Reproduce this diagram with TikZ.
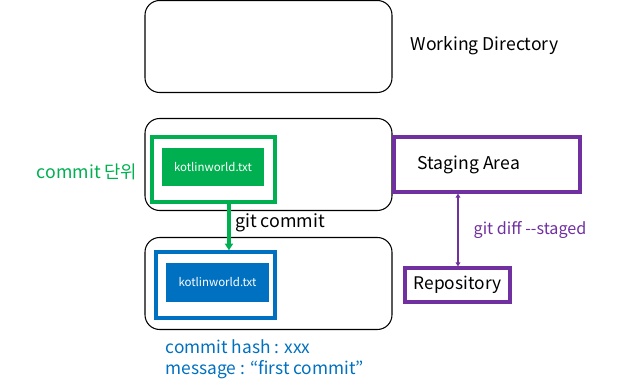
\documentclass[tikz,border=0pt]{standalone}
\usepackage{fontspec}
\setmainfont{Noto Sans CJK KR}
\usetikzlibrary{arrows.meta}
\definecolor{cgreen}{HTML}{00B050}
\definecolor{cblue}{HTML}{0070C0}
\definecolor{cpurple}{HTML}{7030A0}
\tikzset{
	area/.style={draw, rounded corners=11pt, line width=0.8pt, minimum width=185.25pt, minimum height=69pt},
	frame/.style={draw=#1, line width=2.5pt, inner sep=0pt},
	file/.style={fill=#1, text=white, font=\fontsize{8.6}{10}\selectfont, inner sep=0pt, minimum width=77pt, minimum height=28.75pt},
	stage/.style={draw=cpurple, line width=2.4pt, inner sep=0pt, font=\fontsize{13}{15}\selectfont}
}
\begin{document}
		\begin{tikzpicture}[x=0.75pt, y=-0.75pt]
			\useasboundingbox (0,0) rectangle (619,391);
			% three areas
			\node[area] (work) at (268.5,46.5) {};
			\node[area] (stag) at (268.5,164.5) {};
			\node[area] (repo) at (268.5,283.5) {};
			\node[anchor=west, font=\fontsize{13.2}{15}\selectfont] (worklbl) at (406,46) {Working Directory};
			
			% commit unit
			\node[frame=cgreen, minimum width=92.25pt, minimum height=48.75pt] (gout) at (213.5,169.5) {};
			\node[file=cgreen] (gfile) at (213,167) {kotlinworld.txt};
			\node[anchor=east, text=cgreen, font=\fontsize{13.3}{15}\selectfont] (unit) at (142,172) {commit 단위};
			\node[frame=cblue, minimum width=89.25pt, minimum height=49.5pt] (bout) at (215.5,285) {};
			\node[file=cblue] (bfile) at (217.5,282.5) {kotlinworld.txt};
			\node[anchor=north west, align=left, text=cblue, font=\fontsize{13}{15.5}\selectfont] (hash) at (161,335) {commit hash : xxx\\message : “first commit”};
			
			\draw[cgreen, line width=2.5pt, -{Triangle[length=5pt, width=6pt]}] ([xshift=11.6pt]gout.south) -- node[right, text=black, font=\fontsize{13.4}{15}\selectfont, pos=0.4] {git commit} ([xshift=10.1pt]bout.north);
			
			% staging vs repository
			\node[stage, minimum width=139.5pt, minimum height=41.25pt] (stgbox) at (487,164.5) {};
			\node[anchor=west, font=\fontsize{13.2}{15}\selectfont] (stglbl) at (413,165) {Staging Area};
			\node[stage, minimum width=78.75pt, minimum height=25.5pt] (repobox) at (457.5,285) {Repository};
			\coordinate (diffx) at (458,0);
			\draw[cpurple, line width=1.1pt, {Triangle[length=3pt, width=3.5pt]}-{Triangle[length=3pt, width=3.5pt]}] (stgbox.south -| diffx) -- (repobox.north -| diffx);
			\node[anchor=west, text=cpurple, font=\fontsize{12.1}{14}\selectfont] (diff) at (469,230) {git diff -{}-staged};
		\end{tikzpicture}
\end{document}
